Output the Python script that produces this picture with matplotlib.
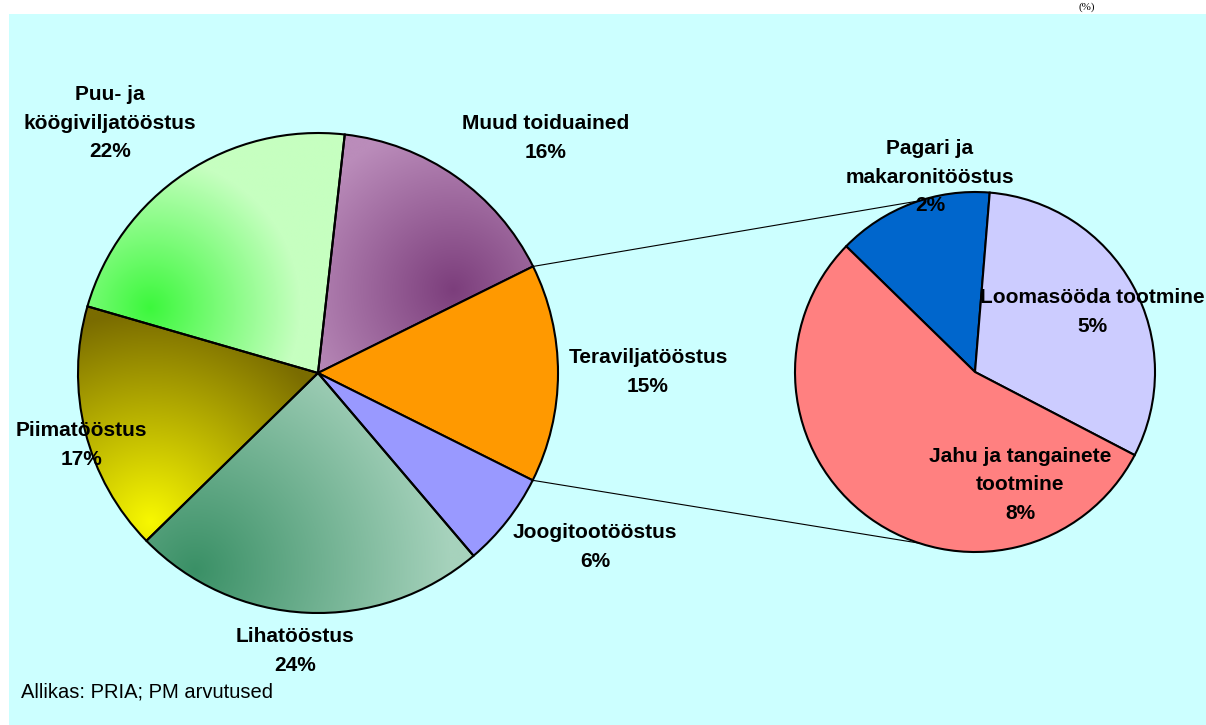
import numpy as np
import matplotlib
matplotlib.use("Agg")
import matplotlib.pyplot as plt
from matplotlib.patches import Rectangle
from matplotlib.colors import to_rgb

# Data: share of food industry sectors (%)
main_labels = ["Muud toiduained", "Teraviljatööstus", "Joogitootööstus",
               "Lihatööstus", "Piimatööstus", "Puu- ja\nköögiviljatööstus"]
main_values = [15.9, 14.7, 6.4, 23.9, 16.8, 22.3]
main_colors = ["#B98BB9", "#FF9900", "#9999FF", "#A2D0B8", "#7A6C00", "#C6FFC0"]

# Breakdown of Teraviljatööstus
sub_labels = ["Pagari ja\nmakaronitööstus", "Loomasööda tootmine",
              "Jahu ja tangainete\ntootmine"]
sub_values = [2.1, 4.7, 8.2]
sub_colors = ["#0066CC", "#CCCCFF", "#FF8080"]

source_text = "Allikas: PRIA; PM arvutused"
unit_text = "(%)"

W, H = 1206, 725
def py(y):
    # pixel row -> data y
    return H - y

plt.rcParams['font.family'] = ['Liberation Sans', 'DejaVu Sans']

fig = plt.figure(figsize=(W / 100, H / 100), dpi=100)
fig.patch.set_facecolor("white")
ax = fig.add_axes([0, 0, 1, 1])
ax.axis("off")

ax.add_patch(Rectangle((9, 0), W - 9, H - 14, facecolor="#CCFFFF",
                       edgecolor="none", zorder=0))


def radial_fill(wedge, cx, cy, R, c_in, c_out):
    v = wedge.get_path().vertices
    x0, y0 = v.min(axis=0)
    x1, y1 = v.max(axis=0)
    xs = np.linspace(x0, x1, max(int(x1 - x0), 2))
    ys = np.linspace(y0, y1, max(int(y1 - y0), 2))
    X, Y = np.meshgrid(xs, ys)
    d = np.clip(np.hypot(X - cx, Y - cy) / R, 0, 1)[..., None]
    rgb = np.array(to_rgb(c_in)) * (1 - d) + np.array(to_rgb(c_out)) * d
    im = ax.imshow(rgb, extent=(x0, x1, y0, y1), origin="lower",
                   interpolation="bilinear", zorder=1, aspect="auto")
    im.set_clip_path(wedge)
    wedge.set_facecolor("none")


# Left (main) pie
c1 = (318, py(373))
r1 = 240
wedges1, _ = ax.pie(main_values, colors=main_colors, startangle=83.6,
                    counterclock=False, center=c1, radius=r1,
                    wedgeprops=dict(edgecolor="black", linewidth=1.5))
for w in wedges1:
    w.set_zorder(2)

# gradient fills (centre point in px, radius, inner colour, outer colour)
radial_fill(wedges1[0], 453, py(290), 165, "#7C3E7C", "#BA8CBA")
radial_fill(wedges1[3], 195, py(570), 255, "#3A9066", "#A6D2BC")
radial_fill(wedges1[4], 150, py(522), 210, "#F8F800", "#7A6C00")
radial_fill(wedges1[5], 150, py(308), 150, "#3CF83C", "#C6FFC0")

# Right (sub) pie
c2 = (975, py(372))
r2 = 180
wedges2, _ = ax.pie(sub_values, colors=sub_colors, startangle=135.7,
                    counterclock=False, center=c2, radius=r2,
                    wedgeprops=dict(edgecolor="black", linewidth=1.5))
for w in wedges2:
    w.set_zorder(2)

# connector lines between the split slice and the second pie
tw = wedges1[1]
for a1, a2 in [(tw.theta2, 108), (tw.theta1, -108)]:
    p = (c1[0] + r1 * np.cos(np.radians(a1)), c1[1] + r1 * np.sin(np.radians(a1)))
    q = (c2[0] + r2 * np.cos(np.radians(a2)), c2[1] + r2 * np.sin(np.radians(a2)))
    ax.plot([p[0], q[0]], [p[1], q[1]], color="black", lw=0.8, zorder=3)

# labels
lab_kw = dict(ha="center", va="center", fontsize=15, fontweight="bold",
              linespacing=1.62, zorder=5)
main_pos = [(546, 138), (648, 372), (595, 547), (295, 651), (81, 445), (110, 123)]
for lab, v, (x, y) in zip(main_labels, main_values, main_pos):
    ax.text(x, py(y), f"{lab}\n{round(v)}%", **lab_kw)

sub_pos = [(930, 177), (1092, 312), (1020, 485)]
for lab, v, (x, y) in zip(sub_labels, sub_values, sub_pos):
    ax.text(x, py(y), f"{lab}\n{round(v)}%", **lab_kw)

ax.text(21, py(692), source_text, ha="left", va="center", fontsize=14.5, zorder=5)

# small unit note in the white strip at the top
ax.text(1087, py(7), unit_text, ha="center", va="center", fontsize=8,
        family="Liberation Serif", zorder=5)

ax.set_xlim(0, W)
ax.set_ylim(0, H)
ax.set_aspect("equal")

fig.savefig("out.png", dpi=100, facecolor=fig.get_facecolor())
